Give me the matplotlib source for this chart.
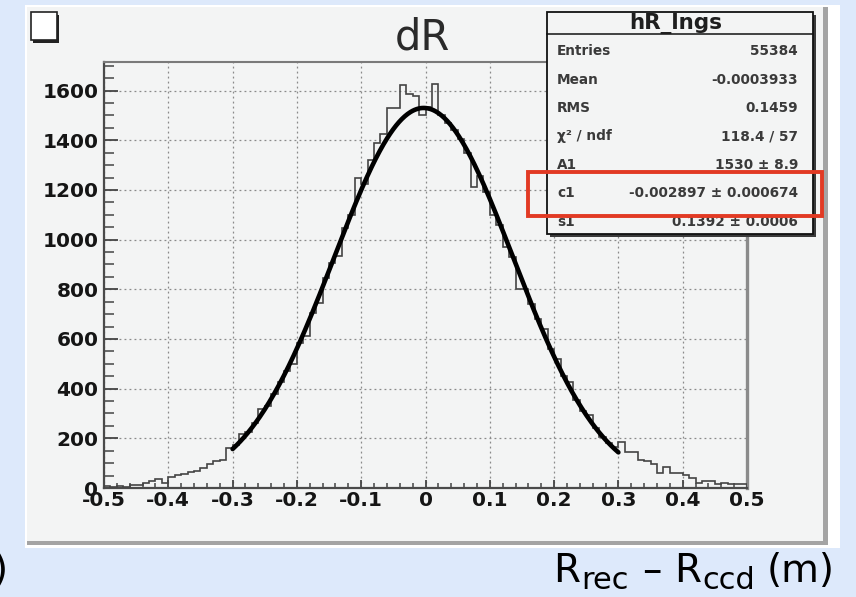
import numpy as np
import matplotlib
matplotlib.use("Agg")
import matplotlib.pyplot as plt
from matplotlib.patches import Rectangle
from matplotlib.lines import Line2D
from matplotlib.font_manager import FontProperties
from matplotlib.ticker import MultipleLocator, FixedLocator, FixedFormatter

# ---- histogram contents: 100 bins of 0.01 m between -0.5 and 0.5 ----
x_min, x_max, n_bins = -0.5, 0.5, 100
counts = [
    10, 6, 10, 6, 12, 14, 20, 30, 36, 22,
    46, 52, 56, 66, 70, 80, 98, 110, 112, 160,
    172, 218, 224, 262, 318, 332, 380, 425, 470, 500,
    585, 610, 705, 745, 845, 905, 935, 1045, 1100, 1250,
    1225, 1320, 1390, 1425, 1530, 1530, 1623, 1585, 1580, 1500,
    1535, 1625, 1500, 1470, 1440, 1405, 1350, 1210, 1255, 1190,
    1100, 1060, 970, 930, 800, 800, 740, 680, 640, 560,
    520, 450, 425, 355, 310, 295, 240, 205, 180, 165,
    186, 146, 146, 113, 110, 95, 60, 85, 60, 60,
    52, 40, 22, 28, 27, 18, 20, 18, 16, 18,
]

# ---- gaussian fit result ----
A1, A1_err = 1530, 8.9
c1, c1_err = -0.002897, 0.000674
s1, s1_err = 0.1392, 0.0006
fit_lo, fit_hi = -0.3, 0.3

stat_labels = ["Entries", "Mean", "RMS", "χ² / ndf", "A1", "c1", "s1"]
stat_values = ["55384", "-0.0003933", "0.1459", "118.4 / 57",
               f"{A1} ± {A1_err}", f"{c1:.6f} ± {c1_err:.6f}",
               f"{s1} ± {s1_err:.4f}"]

x_ticks = [-0.5, -0.4, -0.3, -0.2, -0.1, 0.0, 0.1, 0.2, 0.3, 0.4, 0.5]
x_tick_labels = ["-0.5", "-0.4", "-0.3", "-0.2", "-0.1", "0",
                 "0.1", "0.2", "0.3", "0.4", "0.5"]
y_ticks = [0, 200, 400, 600, 800, 1000, 1200, 1400, 1600]
y_tick_labels = [str(v) for v in y_ticks]

# ---- page geometry (pixels) ----
W, H = 856, 597
fig = plt.figure(figsize=(W / 100, H / 100), dpi=100, facecolor="#dde9fb")


def fx(px):
    return px / W


def fy(py):
    return 1 - py / H


def prect(x0, y0, x1, y1, **kw):
    """Rectangle given in pixel corners (top-left origin)."""
    r = Rectangle((fx(x0), fy(y1)), fx(x1) - fx(x0), fy(y0) - fy(y1),
                  transform=fig.transFigure, **kw)
    fig.patches.append(r)
    return r


canvas_col = "#f3f4f4"
# canvas with bevelled border
prect(25, 5, 840, 548, facecolor="white", edgecolor="none", zorder=-20)
prect(27, 7, 828, 545, facecolor="#a4a4a4", edgecolor="none", zorder=-19)
prect(27, 7, 823, 541, facecolor=canvas_col, edgecolor="none", zorder=-18)

# small marker box in top-left corner
prect(33, 15, 59, 43, facecolor="#222222", edgecolor="none", zorder=-5)
prect(31, 12, 57, 40, facecolor="white", edgecolor="#222222", lw=1.2, zorder=-4)

# ---- histogram pad ----
ax = fig.add_axes([fx(104), fy(488), fx(747) - fx(104), fy(62) - fy(488)])
ax.set_facecolor(canvas_col)

edges = np.linspace(x_min, x_max, n_bins + 1)
ax.stairs(counts, edges, color="#444444", lw=1.2, zorder=3)

xf = np.linspace(fit_lo, fit_hi, 400)
ax.plot(xf, A1 * np.exp(-0.5 * ((xf - c1) / s1) ** 2), color="black",
        lw=3.3, zorder=4, solid_capstyle="round")

ax.set_xlim(x_min, x_max)
ax.set_ylim(0, 1715)

ax.xaxis.set_major_locator(FixedLocator(x_ticks))
ax.xaxis.set_major_formatter(FixedFormatter(x_tick_labels))
ax.xaxis.set_minor_locator(MultipleLocator(0.02))
ax.yaxis.set_major_locator(FixedLocator(y_ticks))
ax.yaxis.set_major_formatter(FixedFormatter(y_tick_labels))
ax.yaxis.set_minor_locator(MultipleLocator(50))

ax.grid(True, which="major", color="#8a8a8a", lw=0.9, ls=(0, (1.5, 2.5)), zorder=1)
ax.set_axisbelow(True)

tick_font = FontProperties(family="DejaVu Sans", weight="bold", size=14.5)
ax.tick_params(axis="x", which="major", direction="in", length=6, width=1.3,
               color="#444444", pad=2, labelcolor="#151515")
ax.tick_params(axis="x", which="minor", direction="in", length=3.5, width=1.1,
               color="#444444")
ax.tick_params(axis="y", which="major", direction="in", length=10, width=1.3,
               color="#444444", pad=4, labelcolor="#151515")
ax.tick_params(axis="y", which="minor", direction="in", length=7, width=1.1,
               color="#444444")
for lab in ax.get_xticklabels() + ax.get_yticklabels():
    lab.set_fontproperties(tick_font)

for side, col, w in [("left", "#4a4a4a", 1.6), ("bottom", "#4a4a4a", 1.6),
                     ("top", "#7a7a7a", 1.5), ("right", "#8a8a8a", 2.4)]:
    ax.spines[side].set_color(col)
    ax.spines[side].set_linewidth(w)

# ---- title ----
fig.text(fx(422), fy(38), "dR", ha="center", va="center", family="DejaVu Sans",
         size=30, color="#2a2a2a")

# ---- statistics box ----
prect(550, 15, 816, 237, facecolor="#3a3a3a", edgecolor="none", zorder=5)
prect(547, 12, 813, 234, facecolor=canvas_col, edgecolor="#111111", lw=1.3, zorder=6)
fig.add_artist(Line2D([fx(547), fx(813)], [fy(34), fy(34)], transform=fig.transFigure,
                      color="#111111", lw=1.1, zorder=7))
fig.text(fx(676), fy(29.5), "hR_lngs", ha="center", va="baseline", family="DejaVu Sans",
         weight="bold", size=15.5, color="#1e1e1e", zorder=8)
row_y = [51, 79.5, 108, 136.5, 165, 193, 222]
for lab, val, yy in zip(stat_labels, stat_values, row_y):
    fig.text(fx(557), fy(yy), lab, ha="left", va="center", family="DejaVu Sans",
             weight="bold", size=9.8, color="#3a3a3a", zorder=8)
    fig.text(fx(798), fy(yy), val, ha="right", va="center", family="DejaVu Sans",
             weight="bold", size=9.8, color="#3a3a3a", zorder=8)

# highlight around the c1 row
prect(528, 172, 822, 216, facecolor="none", edgecolor="#e23a24", lw=2.8, zorder=9)

# ---- axis caption below the canvas: R_rec – R_ccd (m) ----
cap_main, cap_sub = 28, 22
base_main, base_sub = 582, 589
pieces = [("R", cap_main, base_main, 0), ("rec", cap_sub, base_sub, 1),
          ("–", cap_main, base_main, 13), ("R", cap_main, base_main, 13),
          ("ccd", cap_sub, base_sub, 1), ("(m)", cap_main, base_main, 12)]
renderer = fig.canvas.get_renderer()
texts, widths = [], []
for s, sz, base, gap in pieces:
    t = fig.text(0, fy(base), s, ha="left", va="baseline", family="DejaVu Sans",
                 size=sz, color="black")
    texts.append(t)
    widths.append(t.get_window_extent(renderer).width)
total = sum(widths) + sum(p[3] for p in pieces)
xpos = 835 - total
for t, w, p in zip(texts, widths, pieces):
    xpos += p[3]
    t.set_x(fx(xpos))
    xpos += w
fig.text(fx(-7), fy(base_main), ")", ha="left", va="baseline", family="DejaVu Sans",
         size=cap_main, color="black")

fig.savefig("out.png", dpi=100, facecolor=fig.get_facecolor())
